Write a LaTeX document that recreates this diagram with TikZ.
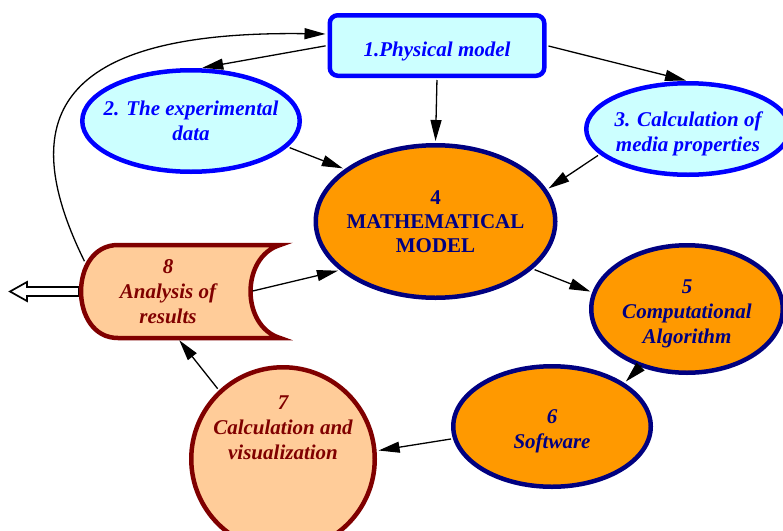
\documentclass[tikz,border=0pt]{standalone}
\usepackage{fontspec}
\setmainfont{Liberation Serif}
\usetikzlibrary{shapes.geometric, arrows.meta}
\definecolor{lightcyan}{HTML}{CCFFFF}
\definecolor{edgeblue}{HTML}{0000FF}
\definecolor{orangefill}{HTML}{FF9900}
\definecolor{edgenavy}{HTML}{000080}
\definecolor{peachfill}{HTML}{FFCC99}
\definecolor{edgemaroon}{HTML}{800000}
\begin{document}
\begin{tikzpicture}[x=1pt, y=-1pt, line width=1.3pt,
  every node/.style={font=\fontsize{21}{25}\selectfont\bfseries\itshape, align=center},
  inputbox/.style={draw=edgeblue, fill=lightcyan, text=edgeblue, line width=4.5pt},
  mainbox/.style={draw=edgenavy, fill=orangefill, text=edgenavy, line width=4.5pt},
  outbox/.style={draw=edgemaroon, fill=peachfill, text=edgemaroon, line width=4.5pt},
  oval/.style={ellipse, inner xsep=-30pt, inner ysep=0pt},
  link/.style={-{Triangle[length=21pt, width=11pt]}, shorten <=2pt, shorten >=2pt}]
  \useasboundingbox (0,0) rectangle (783,530);
  % inputs
  \node[inputbox, rounded corners=8pt, minimum width=214.5pt, minimum height=60.5pt, text height=26pt] (phys) at (437,45.5) {1.Physical model};
  \node[inputbox, oval, minimum width=217.5pt, minimum height=101.5pt] (data) at (191,121) {2. The experimental\\data};
  \node[inputbox, oval, text height=50pt, minimum width=203.5pt, minimum height=91.5pt] (media) at (688,129) {3. Calculation of\\media properties};
  % model chain
  \node[mainbox, oval, minimum width=239.5pt, minimum height=152.5pt, font=\fontsize{21}{24}\selectfont\bfseries] (model) at (435.5,221.5) {4\\MATHEMATICAL\\MODEL};
  \node[mainbox, oval, text height=73pt, minimum width=191.5pt, minimum height=127.5pt] (algo) at (687,309) {5\\Computational\\Algorithm};
  \node[mainbox, oval, text height=49pt, minimum width=197.5pt, minimum height=120.5pt] (soft) at (552,426.5) {6\\Software};
  \node[outbox, circle, minimum size=183.5pt] (vis) at (283,459) {};
  \node[text=edgemaroon] (vistext) at (283,428) {7\\Calculation and\\visualization};
  % results
  \coordinate (outtip) at (10,291.5);
  \draw[line width=1.7pt, fill=white] (79,287) -- (27,287) -- (27,282) -- (outtip) -- (27,301) -- (27,296) -- (79,296) -- cycle;
  \draw[outbox] (280,245) -- (118,245) .. controls (68.7,245) and (68.7,338) .. (118,338) -- (280,338) .. controls (240.7,326) and (240.7,257) .. cycle;
  \node[text=edgemaroon, minimum width=164pt, minimum height=93pt] (res) at (168,291.5) {8\\Analysis of\\results};
  % links
  \draw[link] (phys.west) -- (data.80);
  \draw[link] (res.161) .. controls (20,130) and (40,30) .. (phys.174);
  \draw[link] (phys.east) -- (media.north);
  \draw[link] (phys.south) -- (model.north);
  \draw[link] (data.-15) -- (model.150);
  \draw[link] (media.196) -- (model.16);
  \draw[link] (model.-26) -- (algo.170);
  \draw[link] (algo.231) -- (soft.31);
  \draw[link] (soft.187) -- (vis.5);
  \draw[link] (vis.133) -- (res.-78);
  \draw[link] (res.east) -- (model.207);
\end{tikzpicture}
\end{document}
